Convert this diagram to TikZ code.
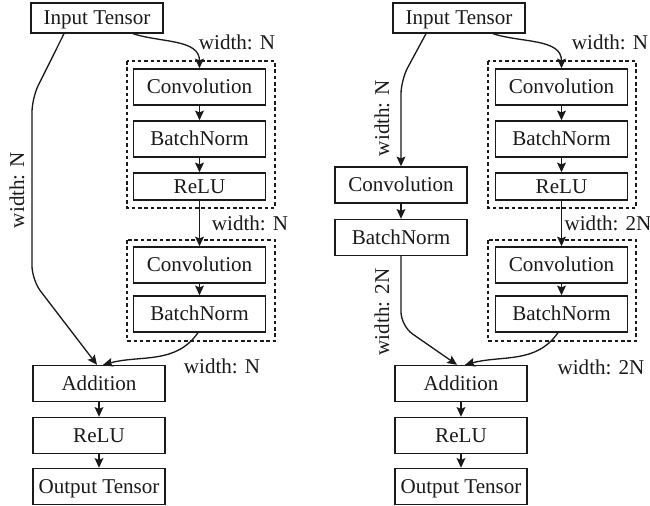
\documentclass[tikz,border=0pt]{standalone}
\usepackage{fontspec}
\setmainfont{Liberation Serif}
\usepackage{xcolor}
\usepackage{tikz}
\usetikzlibrary{calc,arrows.meta}
\definecolor{ink}{HTML}{1A1A1A}
\definecolor{page}{HTML}{FFFFFF}
\tikzset{
  blk/.style={draw=ink, line width=0.8pt, minimum width=2.64cm, minimum height=0.72cm, inner sep=0pt, text height=7.9pt, text depth=0pt, text=ink, font=\fontsize{12}{14}\selectfont},
  blkin/.style={blk, minimum height=0.6cm},
  blkrl/.style={blk, minimum height=0.54cm},
  grp/.style={draw=ink, line width=0.8pt, dash pattern=on 2pt off 1.6pt},
  arr/.style={draw=ink, line width=0.75pt, -{Stealth[length=5.5pt,width=5pt,inset=1pt]}},
  lab/.style={text=ink, inner sep=0pt, font=\fontsize{12}{14}\selectfont},
  labv/.style={lab, rotate=90},
}

\begin{document}
\begin{tikzpicture}[x=0.02cm, y=-0.02cm]
  \useasboundingbox[fill=page] (0,0) rectangle (650,506);
  \draw[grp] (127,61) rectangle (275,208);
  \draw[grp] (127,240) rectangle (275,341);
  \draw[grp] (488,61) rectangle (636,208);
  \draw[grp] (488,240) rectangle (636,341);

  \node[blkin] (inL) at (97,18) {Input Tensor};
  \node[blk] (c1L) at (199.5,87) {Convolution};
  \node[blk] (b1L) at (199.5,139) {BatchNorm};
  \node[blkrl] (r1L) at (199.5,186.5) {ReLU};
  \node[blk] (c2L) at (199.5,265) {Convolution};
  \node[blk] (b2L) at (199.5,314) {BatchNorm};
  \node[blk] (addL) at (99,383.5) {Addition};
  \node[blk] (reL) at (99,435.5) {ReLU};
  \node[blk] (outL) at (99,486.5) {Output Tensor};

  \node[blkin] (inR) at (459,18) {Input Tensor};
  \node[blk] (c1R) at (561.5,87) {Convolution};
  \node[blk] (b1R) at (561.5,139) {BatchNorm};
  \node[blkrl] (r1R) at (561.5,186.5) {ReLU};
  \node[blk] (c2R) at (561.5,265) {Convolution};
  \node[blk] (b2R) at (561.5,314) {BatchNorm};
  \node[blk] (cvR) at (401,185) {Convolution};
  \node[blk] (bnR) at (401,237.5) {BatchNorm};
  \node[blk] (addR) at (461,383.5) {Addition};
  \node[blk] (reR) at (461,435.5) {ReLU};
  \node[blk] (outR) at (461,486.5) {Output Tensor};

  \coordinate (kL1) at (32,98);
  \coordinate (kL2) at (32,280);
  \coordinate (kR1) at (401,80);
  \coordinate (kR2) at (401,326);

  \draw[arr] ([xshift=0.72cm]inL.south) to[out=-18,in=90] (c1L.north);
  \draw[arr] (c1L) -- (b1L);
  \draw[arr] (b1L) -- (r1L);
  \draw[arr] (r1L) -- (c2L);
  \draw[arr] (c2L) -- (b2L);
  \draw[arr, rounded corners=8pt] ([xshift=-0.66cm]inL.south) -- (kL1) -- (kL2) -- ([xshift=-0.04cm]addL.north);
  \draw[arr] ([xshift=-0.03cm]b2L.south) to[out=-125,in=15] ([xshift=0.08cm]addL.north);
  \draw[arr] (addL) -- (reL);
  \draw[arr] (reL) -- (outL);

  \draw[arr] ([xshift=0.68cm]inR.south) to[out=-18,in=90] (c1R.north);
  \draw[arr] (c1R) -- (b1R);
  \draw[arr] (b1R) -- (r1R);
  \draw[arr] (r1R) -- (c2R);
  \draw[arr] (c2R) -- (b2R);
  \draw[arr, rounded corners=8pt] ([xshift=-0.66cm]inR.south) -- (kR1) -- (cvR.north);
  \draw[arr] (cvR) -- (bnR);
  \draw[arr, rounded corners=8pt] (bnR.south) -- (kR2) -- ([xshift=-0.08cm]addR.north);
  \draw[arr] ([xshift=-0.07cm]b2R.south) to[out=-125,in=15] ([xshift=0.08cm]addR.north);
  \draw[arr] (addR) -- (reR);
  \draw[arr] (reR) -- (outR);

  \node[lab] (wL1) at (237,42) {width: N};
  \node[lab] (wL2) at (250,223) {width: N};
  \node[lab] (wL3) at (222,366) {width: N};
  \node[labv] (wL4) at (17,190) {width: N};
  \node[lab] (wR1) at (610,42) {width: N};
  \node[lab] (wR2) at (608,223) {width: 2N};
  \node[lab] (wR3) at (601,367) {width: 2N};
  \node[labv] (wR4) at (382,118) {width: N};
  \node[labv] (wR5) at (382,312) {width: 2N};
\end{tikzpicture}
\end{document}
